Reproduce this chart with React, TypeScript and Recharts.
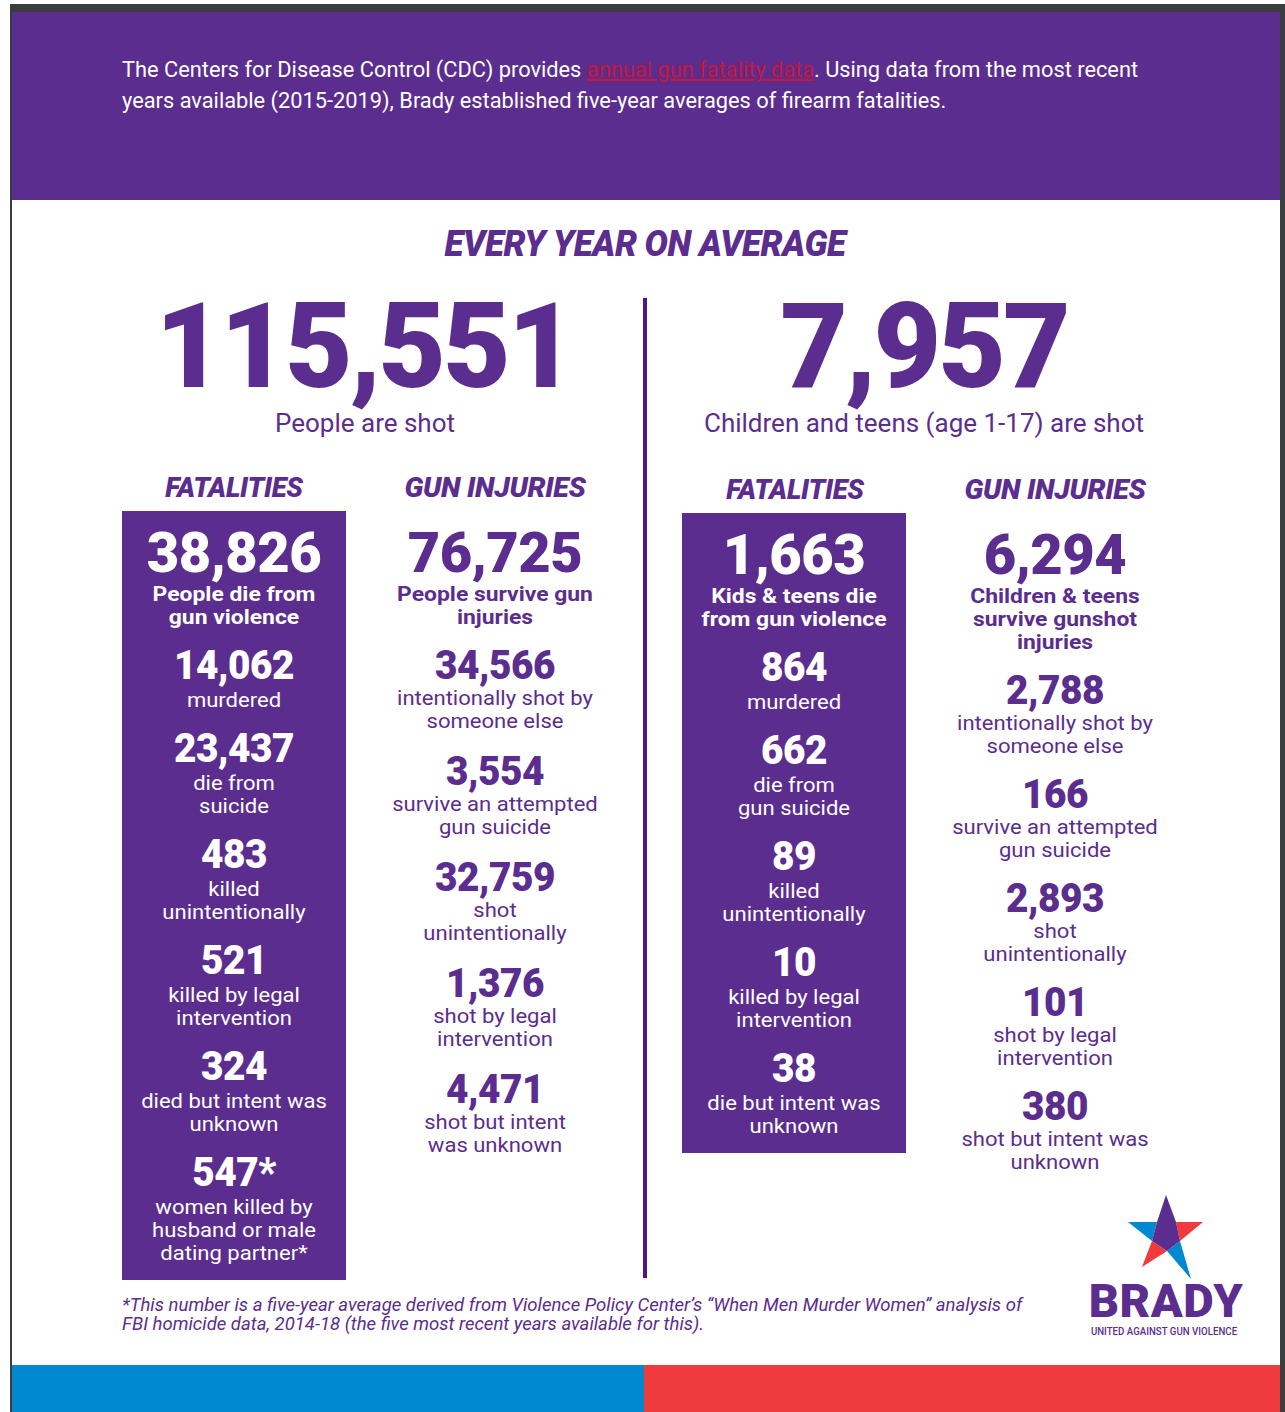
import React from "react";
import { Surface, Layer, Text, Rectangle, Polygon } from "recharts";

// top line totals
const totals = [115551, 7957];
const totalLabels = ["People are shot", "Children and teens (age 1-17) are shot"];
const columnTitles = ["FATALITIES", "GUN INJURIES", "FATALITIES", "GUN INJURIES"];

// adults, fatalities
const adultFatalities = [38826, 14062, 23437, 483, 521, 324, 547];
const adultFatalityMarks = ["", "", "", "", "", "", "*"];
const adultFatalityLabels = [
  ["People die from", "gun violence"],
  ["murdered"],
  ["die from", "suicide"],
  ["killed", "unintentionally"],
  ["killed by legal", "intervention"],
  ["died but intent was", "unknown"],
  ["women killed by", "husband or male", "dating partner*"],
];

// adults, injuries
const adultInjuries = [76725, 34566, 3554, 32759, 1376, 4471];
const adultInjuryLabels = [
  ["People survive gun", "injuries"],
  ["intentionally shot by", "someone else"],
  ["survive an attempted", "gun suicide"],
  ["shot", "unintentionally"],
  ["shot by legal", "intervention"],
  ["shot but intent", "was unknown"],
];

// children & teens, fatalities
const youthFatalities = [1663, 864, 662, 89, 10, 38];
const youthFatalityLabels = [
  ["Kids & teens die", "from gun violence"],
  ["murdered"],
  ["die from", "gun suicide"],
  ["killed", "unintentionally"],
  ["killed by legal", "intervention"],
  ["die but intent was", "unknown"],
];

// children & teens, injuries
const youthInjuries = [6294, 2788, 166, 2893, 101, 380];
const youthInjuryLabels = [
  ["Children & teens", "survive gunshot", "injuries"],
  ["intentionally shot by", "someone else"],
  ["survive an attempted", "gun suicide"],
  ["shot", "unintentionally"],
  ["shot by legal", "intervention"],
  ["shot but intent was", "unknown"],
];

const PURPLE = "#5b2d8e";
const DIVIDER = "#4f1583";
const FRAME = "#3a3d40";
const BLUE = "#0088d0";
const RED = "#ef3a3e";
const LINK = "#c8163a";
const SANS = "Roboto, 'Noto Sans', sans-serif";

const fmt = (n: number) => n.toLocaleString("en-US");

function Label({
  x,
  y,
  children,
  size,
  weight = 400,
  italic = false,
  fill = PURPLE,
  squeeze = 1,
  anchor = "middle",
  spacing = 0,
}: any) {
  return (
    <Layer transform={`translate(${x},${y}) scale(${squeeze},1)`}>
      <Text
        x={0}
        y={0}
        textAnchor={anchor}
        verticalAnchor="middle"
        fontSize={size}
        fontWeight={weight}
        fontStyle={italic ? "italic" : "normal"}
        fill={fill}
        fontFamily={SANS}
        letterSpacing={spacing}
      >
        {children}
      </Text>
    </Layer>
  );
}

function StatColumn({
  cx,
  top,
  values,
  labels,
  marks,
  color,
  numGap,
  blockGap,
}: any) {
  const lineH = 23;
  const items: React.ReactNode[] = [];
  let cursor = top;
  values.forEach((v: number, i: number) => {
    const lead = i === 0;
    const mark = marks ? marks[i] : "";
    items.push(
      <Label
        key={`n${i}`}
        x={cx}
        y={cursor}
        size={lead ? 56 : 40}
        weight={900}
        fill={color}
        squeeze={lead ? 1.0 : 0.97}
        spacing={-0.5}
      >
        {fmt(v) + mark}
      </Label>
    );
    const first = cursor + (lead ? 42 : numGap);
    labels[i].forEach((line: string, j: number) => {
      items.push(
        <Label
          key={`l${i}-${j}`}
          x={cx}
          y={first + j * lineH}
          size={lead ? 21 : 21}
          weight={lead ? 700 : 400}
          fill={color}
          squeeze={lead ? 1.09 : 1.05}
        >
          {line}
        </Label>
      );
    });
    cursor = first + (labels[i].length - 1) * lineH + (lead ? 48 : blockGap);
  });
  return <Layer>{items}</Layer>;
}

function Logo() {
  return (
    <Layer>
      <Polygon points={[{ x: 1128, y: 1222 }, { x: 1157, y: 1222 }, { x: 1152, y: 1241 }]} fill={BLUE} />
      <Polygon points={[{ x: 1203, y: 1222 }, { x: 1176, y: 1222 }, { x: 1180, y: 1241 }]} fill={RED} />
      <Polygon points={[{ x: 1142, y: 1267 }, { x: 1152, y: 1241 }, { x: 1167, y: 1251 }]} fill={RED} />
      <Polygon points={[{ x: 1191, y: 1279 }, { x: 1167, y: 1251 }, { x: 1180, y: 1241 }]} fill={BLUE} />
      <Polygon
        points={[
          { x: 1166, y: 1195 },
          { x: 1176, y: 1222 },
          { x: 1180, y: 1241 },
          { x: 1167, y: 1251 },
          { x: 1152, y: 1241 },
          { x: 1157, y: 1222 },
        ]}
        fill={PURPLE}
      />
      <Label x={1166} y={1300} size={47} weight={900} squeeze={1.0} spacing={0.5}>
        BRADY
      </Label>
      <Label x={1164} y={1331} size={10} weight={500} squeeze={0.97}>
        UNITED AGAINST GUN VIOLENCE
      </Label>
    </Layer>
  );
}

export default function App() {
  return (
    <div style={{ position: "absolute", top: 0, left: 0, width: 1285, height: 1412, background: "#fff" }}>
      <Surface width={1285} height={1412} viewBox={{ x: 0, y: 0, width: 1285, height: 1412 }}>
        {/* frame */}
        <Rectangle x={10} y={4} width={1275} height={8} fill={FRAME} />
        <Rectangle x={10} y={4} width={2} height={1408} fill={FRAME} />
        <Rectangle x={1280} y={4} width={5} height={1408} fill={FRAME} />

        {/* header band */}
        <Rectangle x={12} y={12} width={1268} height={188} fill={PURPLE} />
        <Layer transform="translate(122,69) scale(1.0,1)">
          <text x={0} y={0} dy="0.36em" fontSize={21.8} fontFamily={SANS} fill="#fff">
            <tspan>The Centers for Disease Control (CDC) provides </tspan>
            <tspan fill={LINK} textDecoration="underline">annual gun fatality data</tspan>
            <tspan>. Using data from the most recent</tspan>
          </text>
        </Layer>
        <Label x={122} y={100} size={21.8} fill="#fff" anchor="start" squeeze={1.0}>
          years available (2015-2019), Brady established five-year averages of firearm fatalities.
        </Label>

        {/* title */}
        <Label x={645} y={243} size={36} weight={900} italic squeeze={0.97} spacing={-0.5}>
          EVERY YEAR ON AVERAGE
        </Label>

        {/* divider */}
        <Rectangle x={643} y={298} width={4} height={980} fill={DIVIDER} />

        {/* totals */}
        <Label x={364} y={345} size={118} weight={900} squeeze={0.99} spacing={-3}>
          {fmt(totals[0])}
        </Label>
        <Label x={365} y={423} size={26} squeeze={1.0}>
          {totalLabels[0]}
        </Label>
        <Label x={924} y={345} size={118} weight={900} squeeze={0.99} spacing={-3}>
          {fmt(totals[1])}
        </Label>
        <Label x={924} y={423} size={26} squeeze={1.0}>
          {totalLabels[1]}
        </Label>

        {/* column titles */}
        <Label x={234} y={487} size={28} weight={900} italic squeeze={0.98} spacing={-0.3}>
          {columnTitles[0]}
        </Label>
        <Label x={495} y={487} size={28} weight={900} italic squeeze={1.02} spacing={-0.3}>
          {columnTitles[1]}
        </Label>
        <Label x={795} y={489} size={28} weight={900} italic squeeze={0.98} spacing={-0.3}>
          {columnTitles[2]}
        </Label>
        <Label x={1055} y={489} size={28} weight={900} italic squeeze={1.02} spacing={-0.3}>
          {columnTitles[3]}
        </Label>

        {/* fatality boxes */}
        <Rectangle x={122} y={511} width={224} height={769} fill={PURPLE} />
        <Rectangle x={682} y={513} width={224} height={640} fill={PURPLE} />

        <StatColumn
          cx={234}
          top={552}
          values={adultFatalities}
          labels={adultFatalityLabels}
          marks={adultFatalityMarks}
          color="#fff"
          numGap={35}
          blockGap={48}
        />
        <StatColumn
          cx={495}
          top={552}
          values={adultInjuries}
          labels={adultInjuryLabels}
          color={PURPLE}
          numGap={33}
          blockGap={50}
        />
        <StatColumn
          cx={794}
          top={554}
          values={youthFatalities}
          labels={youthFatalityLabels}
          color="#fff"
          numGap={35}
          blockGap={48}
        />
        <StatColumn
          cx={1055}
          top={554}
          values={youthInjuries}
          labels={youthInjuryLabels}
          color={PURPLE}
          numGap={33}
          blockGap={48}
        />

        {/* footnote */}
        <Label x={122} y={1305} size={17.5} italic anchor="start" squeeze={1.06}>
          *This number is a five-year average derived from Violence Policy Center’s “When Men Murder Women” analysis of
        </Label>
        <Label x={122} y={1324} size={17.5} italic anchor="start" squeeze={1.06}>
          FBI homicide data, 2014-18 (the five most recent years available for this).
        </Label>

        <Logo />

        {/* bottom bars */}
        <Rectangle x={12} y={1365} width={632} height={47} fill={BLUE} />
        <Rectangle x={644} y={1365} width={636} height={47} fill={RED} />
      </Surface>
    </div>
  );
}
